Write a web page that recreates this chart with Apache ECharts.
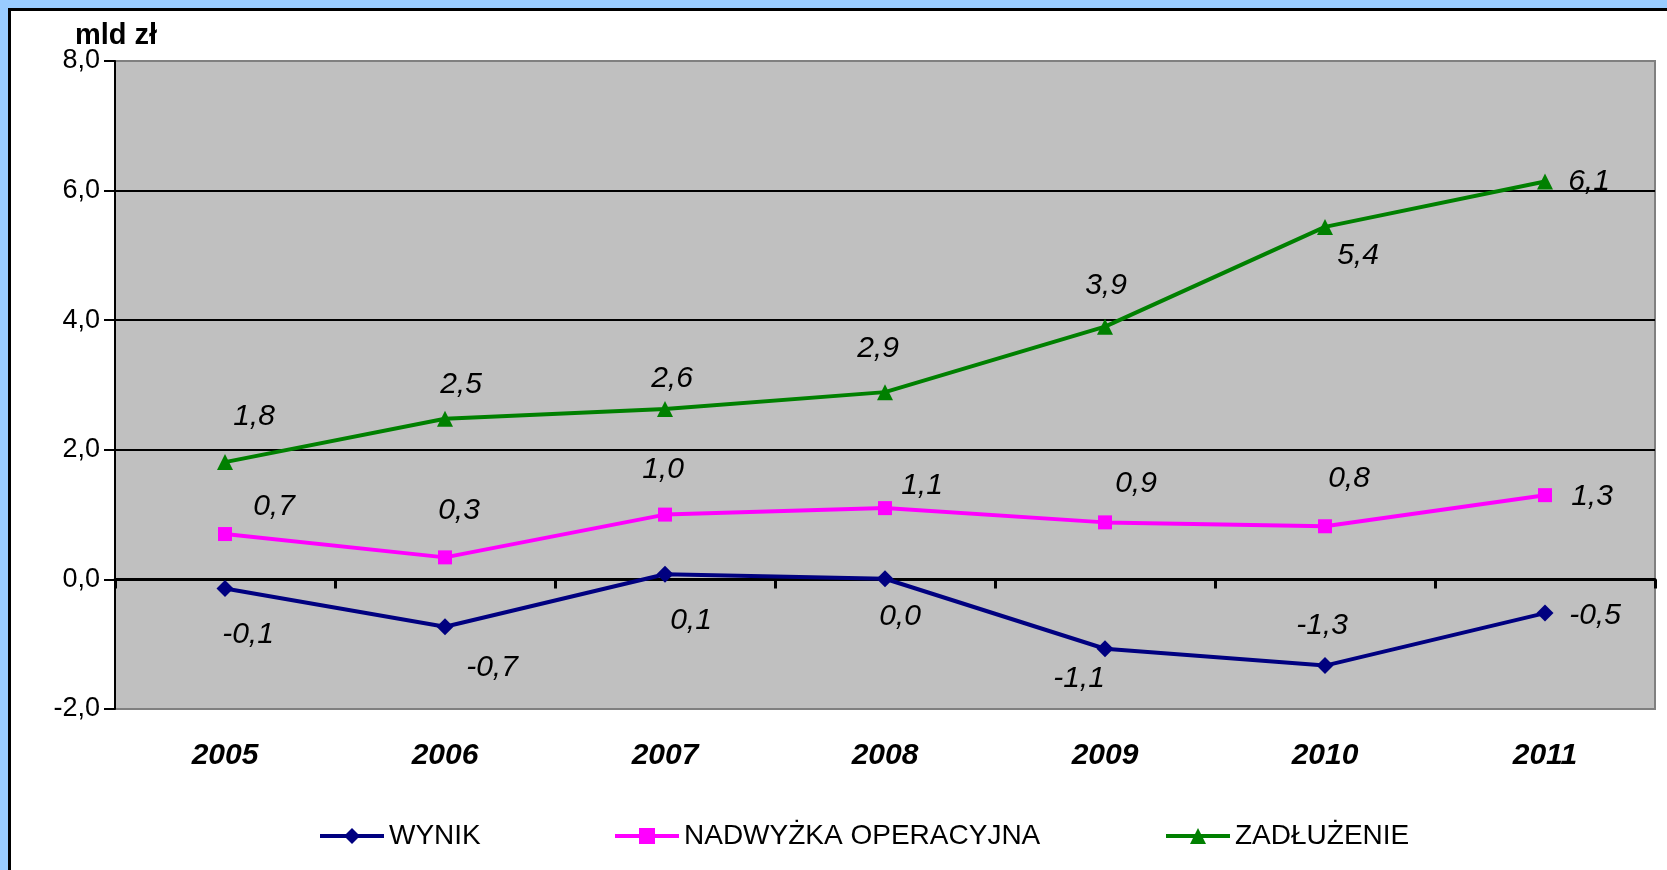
<!DOCTYPE html>
<html>
<head>
<meta charset="utf-8">
<script src="https://cdn.jsdelivr.net/npm/echarts@6/dist/echarts.min.js"></script>
<style>
    body { margin: 0; background: #99CCFF; overflow: hidden; }
    #frame { position: absolute; left: 8px; top: 8px; width: 1700px; height: 900px; border: 3px solid #000; background: #fff; }
    #chart { position: absolute; left: 0; top: 0; width: 1667px; height: 870px; }
</style>
</head>
<body>
<div id="frame"></div>
<div id="chart"></div>
<script>
const years = ["2005", "2006", "2007", "2008", "2009", "2010", "2011"];
const wynik = [-0.14, -0.73, 0.08, 0.01, -1.07, -1.33, -0.52];
const nadwyzka = [0.70, 0.34, 1.00, 1.10, 0.88, 0.82, 1.30];
const zadluzenie = [1.81, 2.48, 2.63, 2.89, 3.90, 5.44, 6.14];
const yTicks = [-2, 0, 2, 4, 6, 8];

// label offsets from the marker, per point
const wynikOff = [[23, 46], [47, 41], [26, 46], [15, 38], [-26, 30], [-3, -40], [50, 3]];
const nadwOff = [[49, -27], [14, -47], [-2, -45], [37, -22], [31, -39], [24, -48], [47, 1]];
const zadlOff = [[29, -45], [16, -34], [7, -30], [-7, -43], [1, -41], [33, 29], [44, 0]];

const fmt = (v) => v.toFixed(1).replace(".", ",");
const font = "'Liberation Sans', Arial, sans-serif";

function points(values, offsets) {
    return values.map((v, i) => ({
        value: v,
        label: { offset: offsets[i] },
    }));
}

function lineSeries(name, values, offsets, color, symbol, size) {
    return {
        name: name,
        type: "line",
        data: points(values, offsets),
        symbol: symbol,
        symbolSize: size,
        lineStyle: { color: color, width: 4 },
        itemStyle: { color: color },
        label: {
            show: true,
            position: "inside",
            align: "center",
            verticalAlign: "middle",
            formatter: (p) => fmt(p.value),
            color: "#000",
            fontSize: 30,
            fontStyle: "italic",
            fontFamily: font,
        },
        emphasis: { disabled: true },
    };
}

function legendAt(name, left) {
    return {
        data: [name],
        left: left,
        top: 817,
        itemWidth: 64,
        itemHeight: 20,
        lineStyle: { width: 4 },
        textStyle: { fontSize: 28, color: "#000", fontFamily: font },
    };
}

let chart = echarts.init(document.getElementById("chart"));
let option = {
    animation: false,
    backgroundColor: "transparent",
    title: {
        text: "mld zł",
        left: 70,
        top: 16,
        textStyle: { fontSize: 29, fontWeight: "bold", color: "#000", fontFamily: font },
    },
    legend: [
        legendAt("WYNIK", 313),
        legendAt("NADWYŻKA OPERACYJNA", 608),
        legendAt("ZADŁUŻENIE", 1159),
    ],
    grid: {
        left: 115,
        right: 12,
        top: 61,
        bottom: 161,
        show: true,
        backgroundColor: "#C0C0C0",
        borderColor: "#808080",
        borderWidth: 2,
    },
    xAxis: [
        {
            type: "category",
            data: years,
            axisLine: { show: false, onZero: false },
            axisTick: { show: false },
            axisLabel: {
                margin: 32,
                fontSize: 30,
                fontWeight: "bold",
                fontStyle: "italic",
                color: "#000",
                fontFamily: font,
            },
        },
        {
            type: "category",
            data: years,
            position: "bottom",
            axisLine: { show: true, onZero: true, lineStyle: { color: "#000", width: 3 } },
            axisTick: { show: true, length: 9, lineStyle: { color: "#000", width: 3 } },
            axisLabel: { show: false },
        },
    ],
    yAxis: {
        type: "value",
        min: yTicks[0],
        max: yTicks[yTicks.length - 1],
        interval: 2,
        axisLine: { show: true, lineStyle: { color: "#000", width: 2 } },
        axisTick: { show: true, length: 11, lineStyle: { color: "#000", width: 2 } },
        axisLabel: {
            formatter: fmt,
            fontSize: 27,
            color: "#000",
            margin: 15,
            fontFamily: font,
        },
        splitLine: {
            show: true,
            lineStyle: { color: ["#808080", "#000", "#000", "#000", "#000", "#808080"], width: 2 },
        },
    },
    series: [
        lineSeries("WYNIK", wynik, wynikOff, "#000080", "diamond", 17),
        lineSeries("NADWYŻKA OPERACYJNA", nadwyzka, nadwOff, "#FF00FF", "rect", 14),
        lineSeries("ZADŁUŻENIE", zadluzenie, zadlOff, "#008000", "triangle", 16),
    ],
};
chart.setOption(option);
</script>
</body>
</html>
